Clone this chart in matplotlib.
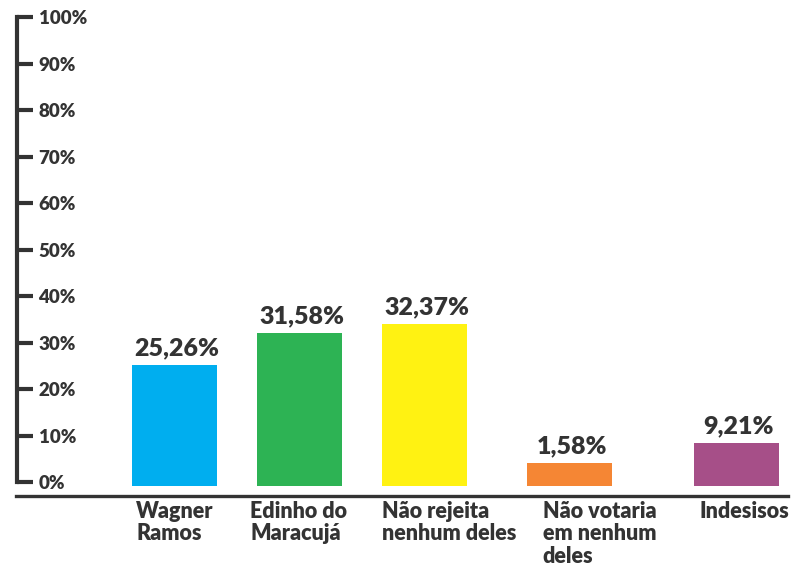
import matplotlib
matplotlib.use("Agg")
import matplotlib.pyplot as plt
from matplotlib.transforms import offset_copy

# ---- data ----
categories = ["Wagner\nRamos", "Edinho do\nMaracujá", "Não rejeita\nnenhum deles",
              "Não votaria\nem nenhum\ndeles", "Indesisos"]
value_labels = ["25,26%", "31,58%", "32,37%", "1,58%", "9,21%"]
bar_tops = [25.2, 32.0, 34.0, 4.1, 8.4]          # drawn bar heights (%)
y_ticks = [0, 10, 20, 30, 40, 50, 60, 70, 80, 90, 100]
y_ticklabels = [f"{t}%" for t in y_ticks]

# ---- layout / style ----
positions = [0, 1.0, 2.0, 3.16, 4.49]
bar_bottom = -0.86
bar_width = 0.68
colors = ["#00AEEF", "#2DB354", "#FFF212", "#F58634", "#A64F88"]
cat_dx_px = [-38, -49, -43, -27, -37]     # left edge offset of category labels from bar center
dark = "#333333"
FONT = "Lato"

W, H = 802, 569
fig = plt.figure(figsize=(W / 100, H / 100), dpi=100)
left_px, right_px, top_px, bottom_px = 16, 788, 17, 496
ax = fig.add_axes([left_px / W, (H - bottom_px) / H,
                   (right_px - left_px) / W, (bottom_px - top_px) / H])

ax.set_xlim(-1.264, 4.904)
ax.set_ylim(-3.0, 100)

heights = [t - bar_bottom for t in bar_tops]
ax.bar(positions, heights, bottom=bar_bottom, width=bar_width, color=colors,
       edgecolor="none", zorder=2)

# value labels
for x, top, lab in zip(positions, bar_tops, value_labels):
    ax.annotate(lab, (x, top), xytext=(2, 4), textcoords="offset points",
                ha="center", va="bottom", fontsize=18, fontweight="heavy",
                family=FONT, color=dark)

# category labels
for x, lab, dx in zip(positions, categories, cat_dx_px):
    tr = offset_copy(ax.transData, fig=fig, x=dx, y=-5, units="dots")
    ax.text(x, -3.0, lab, transform=tr, ha="left", va="top", multialignment="left",
            fontsize=15.5, fontweight="heavy", family=FONT, color=dark,
            linespacing=1.08)

# spines
for s in ["top", "right"]:
    ax.spines[s].set_visible(False)
ax.spines["bottom"].set_color(dark)
ax.spines["bottom"].set_linewidth(2.4)
ax.spines["left"].set_color(dark)
ax.spines["left"].set_linewidth(3.0)
ax.spines["left"].set_bounds(0, 100)
ax.spines["left"].set_position(("axes", 1.0 / (right_px - left_px)))

ax.set_xticks([])
ax.set_yticks(y_ticks)
ax.set_yticklabels(y_ticklabels)
ax.tick_params(axis="y", direction="in", length=11.5, width=3.0, color=dark,
               pad=-15.5, labelsize=13.5, labelcolor=dark)
for lbl in ax.get_yticklabels():
    lbl.set_horizontalalignment("left")
    lbl.set_fontweight("heavy")
    lbl.set_family(FONT)

fig.savefig("out.png", dpi=100, facecolor="white")
